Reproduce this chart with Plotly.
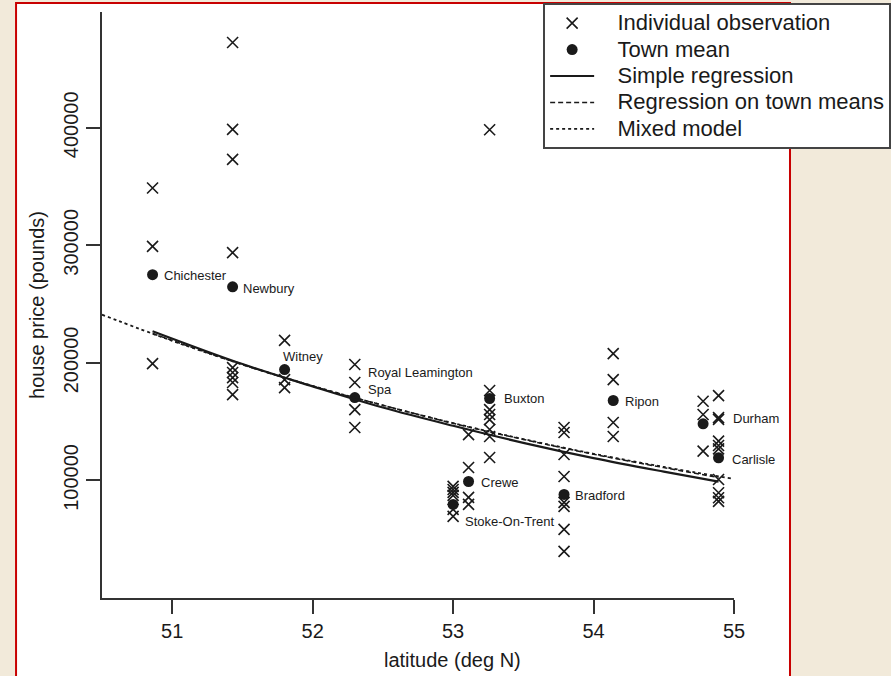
import plotly.graph_objects as go

# ---------------- data ----------------
towns = ["Chichester", "Newbury", "Witney", "Royal Leamington<br>Spa", "Stoke-On-Trent",
         "Crewe", "Buxton", "Bradford", "Ripon", "Durham", "Carlisle"]
town_lat = [50.86, 51.43, 51.80, 52.30, 53.00, 53.11, 53.26, 53.79, 54.14, 54.78, 54.89]
town_mean = [275000, 264700, 194300, 170500, 79600, 99100, 169700, 88100, 168000, 148200, 119300]

obs_chichester = [348800, 299100, 199400]
obs_newbury = [472600, 398600, 373100, 293800, 196000, 191800, 187500, 183300, 173000]
obs_witney = [219200, 185800, 179000]
obs_leamington = [198600, 183300, 160300, 145000]
obs_stoke = [94900, 92300, 89800, 87300, 75400, 69400]
obs_crewe = [139000, 111000, 85600, 79600]
obs_buxton = [398300, 176500, 160300, 156100, 151800, 143300, 137400, 119500]
obs_bradford = [145000, 140800, 122100, 103400, 81300, 77900, 58400, 39700]
obs_ripon = [207900, 185800, 149300, 137400]
obs_durham = [167400, 156100, 124900]
obs_carlisle = [172200, 153500, 152000, 133400, 129700, 126900, 100800, 89500, 85300, 82200]
obs_by_town = [obs_chichester, obs_newbury, obs_witney, obs_leamington, obs_stoke, obs_crewe,
               obs_buxton, obs_bradford, obs_ripon, obs_durham, obs_carlisle]

simple_lat = [50.86, 51.5, 52.0, 52.5, 53.0, 53.5, 54.0, 54.5, 54.89]
simple_price = [227000, 199000, 180000, 162000, 146500, 132000, 119000, 107500, 99000]

means_lat = [50.86, 51.5, 52.0, 52.5, 53.0, 53.5, 54.0, 54.5, 54.89]
means_price = [225000, 198500, 180200, 164000, 148600, 134900, 122300, 110900, 102500]

mixed_lat = [50.5, 51.0, 51.5, 52.0, 52.5, 53.0, 53.5, 54.0, 54.5, 54.98]
mixed_price = [241000, 218800, 198700, 180400, 163900, 148800, 135200, 122700, 111500, 101700]

x_ticks = [51, 52, 53, 54, 55]
y_ticks = [100000, 200000, 300000, 400000]
y_ticktext = ["100000", "200000", "300000", "400000"]

series_names = ["Individual observation", "Town mean", "Simple regression",
                "Regression on town means", "Mixed model"]

# label offsets in pixels (layout only)
label_shift = {
    "Chichester": (9, -1), "Newbury": (8, -2), "Witney": (-4, 13),
    "Royal Leamington<br>Spa": (11, 17), "Stoke-On-Trent": (10, -17), "Crewe": (10, -1),
    "Buxton": (12, 0), "Bradford": (9, -1), "Ripon": (10, -1), "Durham": (28, 5),
    "Carlisle": (11, -2),
}

obs_x, obs_y = [], []
for lat, vals in zip(town_lat, obs_by_town):
    obs_x += [lat] * len(vals)
    obs_y += vals

INK = "#1a1a1a"
FONT = "Liberation Sans, Arial, Helvetica, sans-serif"


def legend_label(s):
    # larger visible text inside a compact legend row
    return '<span style="font-size:22px">\u00a0\u00a0\u00a0' + s + '</span>'


fig = go.Figure()
fig.add_trace(go.Scatter(x=obs_x, y=obs_y, mode="markers", name=legend_label(series_names[0]),
                         marker=dict(symbol="x-thin", size=11, line=dict(width=1.6, color=INK), color=INK)))
fig.add_trace(go.Scatter(x=town_lat, y=town_mean, mode="markers", name=legend_label(series_names[1]),
                         marker=dict(symbol="circle", size=11, color=INK)))
fig.add_trace(go.Scatter(x=simple_lat, y=simple_price, mode="lines", name=legend_label(series_names[2]),
                         line=dict(color=INK, width=2.2, shape="spline")))
fig.add_trace(go.Scatter(x=means_lat, y=means_price, mode="lines", name=legend_label(series_names[3]),
                         line=dict(color=INK, width=1.5, dash="5px,3px", shape="spline")))
fig.add_trace(go.Scatter(x=mixed_lat, y=mixed_price, mode="lines", name=legend_label(series_names[4]),
                         line=dict(color=INK, width=1.8, dash="dot", shape="spline")))

annotations = []
for name, lat, m in zip(towns, town_lat, town_mean):
    dx, dy = label_shift[name]
    annotations.append(dict(x=lat, y=m, xref="x", yref="y", text=name, showarrow=False,
                            xanchor="left", yanchor="middle", align="left", xshift=dx, yshift=dy,
                            font=dict(family=FONT, size=13, color=INK)))
annotations.append(dict(x=0.554, y=-0.106, xref="paper", yref="paper", text="latitude (deg N)",
                        showarrow=False, xanchor="center", yanchor="middle",
                        font=dict(family=FONT, size=20, color=INK)))

# white panel with red frame
shapes = [dict(type="rect", xref="paper", yref="paper", x0=-0.136, x1=1.0886, y0=-0.25, y1=1.0154,
               fillcolor="white", line=dict(color="#c80000", width=2), layer="below")]

axis_common = dict(showline=True, linecolor="#333", linewidth=1.5, ticks="outside", ticklen=14,
                   tickwidth=1.5, tickcolor="#333", showgrid=False, zeroline=False,
                   tickfont=dict(family=FONT, size=20, color=INK))

fig.update_layout(
    width=891, height=676, autosize=False,
    margin=dict(l=102, r=157, t=12, b=78, autoexpand=False),
    paper_bgcolor="#f2eada", plot_bgcolor="rgba(0,0,0,0)",
    xaxis=dict(range=[50.5, 55], tickvals=x_ticks, **axis_common),
    yaxis=dict(range=[0, 498500], tickvals=y_ticks, ticktext=y_ticktext, tickangle=-90,
               title=dict(text="house price (pounds)", font=dict(family=FONT, size=20, color=INK), standoff=10),
               **axis_common),
    legend=dict(x=0.698, y=1.0154, xanchor="left", yanchor="top", bgcolor="white",
                bordercolor="#444", borderwidth=2, font=dict(family=FONT, size=18, color=INK),
                itemwidth=44, tracegroupgap=0),
    annotations=annotations, shapes=shapes, showlegend=True,
)

fig.write_html("out.html")
